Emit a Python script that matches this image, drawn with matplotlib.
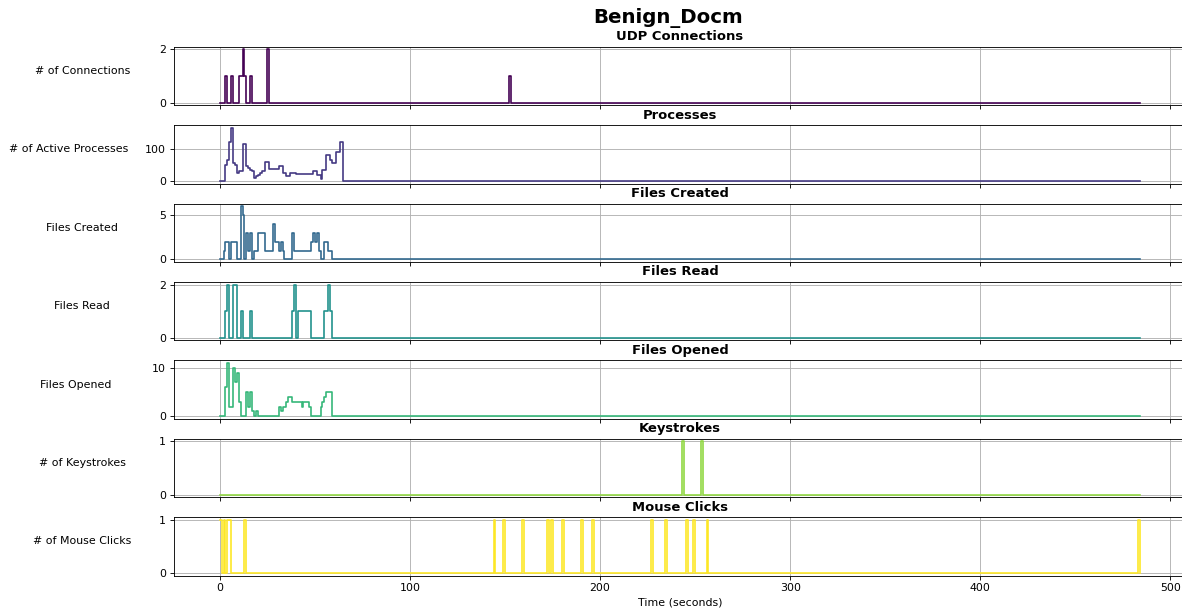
import numpy as np
import matplotlib
matplotlib.use("Agg")
import matplotlib.pyplot as plt

# sampling: one value per second
duration = 484

panel_titles = ["UDP Connections", "Processes", "Files Created", "Files Read",
                "Files Opened", "Keystrokes", "Mouse Clicks"]
y_labels = ["# of Connections", "# of Active Processes", "Files Created", "Files Read",
            "Files Opened", "# of Keystrokes", "# of Mouse Clicks"]

# sparse counters: second -> value
udp_connections = {3: 1, 6: 1, 10: 1, 11: 1, 12: 2, 13: 1, 16: 1, 25: 2, 152: 1}
keystrokes = {243: 1, 253: 1}
mouse_clicks = {0: 1, 2: 1, 4: 1, 5: 1, 13: 1, 144: 1, 149: 1, 159: 1, 172: 1, 174: 1,
                180: 1, 190: 1, 196: 1, 227: 1, 234: 1, 245: 1, 249: 1, 256: 1, 483: 1}

# dense counters, starting at second 0 (zero afterwards)
active_processes = [0, 0, 0, 50, 65, 120, 165, 55, 50, 25, 30, 30, 115, 115, 45, 40, 35, 30,
                    10, 15, 20, 25, 30, 30, 58, 58, 38, 38, 38, 38, 38, 45, 45, 25, 25, 15,
                    15, 25, 25, 25, 22, 22, 22, 22, 22, 22, 22, 22, 22, 32, 32, 20, 20, 5,
                    35, 35, 80, 80, 65, 55, 55, 90, 90, 120, 120]
files_created = [0, 0, 1, 2, 2, 0, 2, 2, 2, 0, 0, 6, 5, 0, 3, 1, 3, 0, 1, 1, 3, 3, 3, 3,
                 1, 1, 1, 1, 4, 2, 2, 1, 2, 1, 0, 0, 0, 0, 3, 1, 1, 1, 1, 1, 1, 1, 1, 1,
                 2, 3, 2, 3, 1, 0, 0, 2, 2, 1, 1]
files_read = [0, 0, 0, 1, 2, 0, 0, 2, 2, 0, 0, 1, 0, 0, 0, 0, 1, 0, 0, 0, 0, 0, 0, 0,
              0, 0, 0, 0, 0, 0, 0, 0, 0, 0, 0, 0, 0, 0, 1, 2, 0, 1, 1, 1, 1, 1, 1, 1,
              0, 0, 0, 0, 0, 0, 0, 1, 1, 2, 1]
files_opened = [0, 0, 0, 6, 11, 2, 2, 10, 7, 9, 3, 0, 0, 0, 5, 2, 5, 1, 0, 1, 0, 0, 0, 0,
                0, 0, 0, 0, 0, 0, 0, 2, 1, 2, 2, 3, 4, 4, 3, 3, 3, 3, 3, 2, 3, 3, 3, 2,
                0, 0, 0, 0, 0, 2, 3, 4, 5, 5, 5]


def fromEvents(events, n):
    y = np.zeros(n)
    for sec, val in events.items():
        y[sec] = val
    return y


def fromList(values, n):
    y = np.zeros(n)
    y[:len(values)] = values
    return y


t = np.arange(duration + 1)
n = len(t)
series = [fromEvents(udp_connections, n), fromList(active_processes, n),
          fromList(files_created, n), fromList(files_read, n),
          fromList(files_opened, n), fromEvents(keystrokes, n),
          fromEvents(mouse_clicks, n)]

colors = plt.cm.viridis(np.linspace(0, 1, len(series)))

fig, axes = plt.subplots(nrows=7, ncols=1, figsize=(14.9625, 7.785), dpi=79, sharex=True)
# axes run slightly past the right edge of the canvas
fig.subplots_adjust(left=0.147, right=1.0034, top=0.924, bottom=0.064, hspace=0.34)
fig.suptitle("Benign_Docm", fontsize=18, fontweight="bold", x=0.565, y=0.987)

for ax, y, c, title, label in zip(axes, series, colors, panel_titles, y_labels):
    ax.step(t, y, where="post", color=c, linewidth=1.5)
    ax.set_title(title, fontweight="bold")
    ax.set_ylabel(label, rotation=0, labelpad=70)
    ax.grid(True)

axes[-1].set_xlabel("Time (seconds)")

plt.savefig("out.png", dpi=79)
